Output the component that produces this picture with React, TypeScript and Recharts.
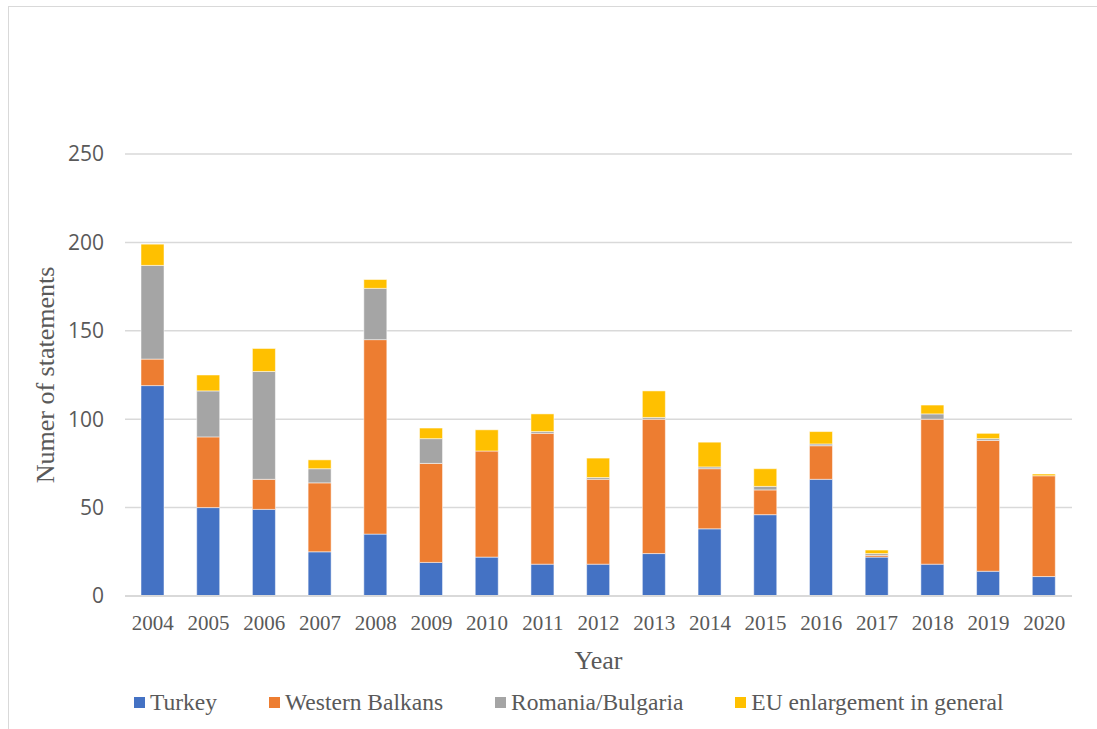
import { Bar, BarChart, CartesianGrid, Legend, XAxis, YAxis } from "recharts";

const years = [
  "2004", "2005", "2006", "2007", "2008", "2009", "2010", "2011", "2012",
  "2013", "2014", "2015", "2016", "2017", "2018", "2019", "2020",
];
const turkey = [119, 50, 49, 25, 35, 19, 22, 18, 18, 24, 38, 46, 66, 22, 18, 14, 11];
const westernBalkans = [15, 40, 17, 39, 110, 56, 60, 74, 48, 76, 34, 14, 19, 1, 82, 74, 57];
const romaniaBulgaria = [53, 26, 61, 8, 29, 14, 0, 1, 1, 1, 1, 2, 1, 1, 3, 1, 0];
const euGeneral = [12, 9, 13, 5, 5, 6, 12, 10, 11, 15, 14, 10, 7, 2, 5, 3, 1];
const yTicks = [0, 50, 100, 150, 200, 250];

const SERIES = [
  { key: "turkey", name: "Turkey", color: "#4472C4" },
  { key: "wb", name: "Western Balkans", color: "#ED7D31" },
  { key: "rb", name: "Romania/Bulgaria", color: "#A5A5A5" },
  { key: "eu", name: "EU enlargement in general", color: "#FFC000" },
];

const data = years.map((year, i) => ({
  year,
  turkey: turkey[i],
  wb: westernBalkans[i],
  rb: romaniaBulgaria[i],
  eu: euGeneral[i],
}));

const SERIF = "'Liberation Serif', 'DejaVu Serif', serif";
const SANS = "'Open Sans', 'Noto Sans', sans-serif";
const TEXT = "#595959";
const GRID = "#d9d9d9";

function LegendContent() {
  return (
    <div
      style={{
        display: "flex",
        alignItems: "center",
        paddingLeft: 134,
        fontFamily: SERIF,
        fontSize: 23.5,
        color: TEXT,
      }}
    >
      {SERIES.map((s) => (
        <div key={s.key} style={{ display: "flex", alignItems: "center", marginRight: 52 }}>
          <span
            style={{ display: "inline-block", width: 11, height: 11, background: s.color, marginRight: 5 }}
          />
          {s.name}
        </div>
      ))}
    </div>
  );
}

export default function App() {
  return (
    <div
      style={{
        position: "absolute",
        left: 0,
        top: 0,
        width: 1097,
        height: 729,
        overflow: "hidden",
        background: "#fff",
      }}
    >
      <div
        style={{
          position: "absolute",
          left: 8,
          top: 6,
          width: 1200,
          height: 800,
          border: `1.5px solid ${GRID}`,
        }}
      />
      <div style={{ position: "absolute", left: 0, top: 0 }}>
        <BarChart
          width={1097}
          height={729}
          data={data}
          margin={{ top: 154, right: 25, left: 0, bottom: 10 }}
          barSize={23}
        >
          <CartesianGrid vertical={false} stroke={GRID} strokeWidth={1.5} />
          <XAxis
            dataKey="year"
            interval={0}
            height={93}
            tickLine={false}
            axisLine={{ stroke: GRID, strokeWidth: 2 }}
            tickMargin={13}
            tick={{ fill: TEXT, fontSize: 21, fontFamily: SERIF }}
            label={{
              value: "Year",
              position: "insideBottom",
              offset: 20,
              fill: TEXT,
              fontSize: 26,
              fontFamily: SERIF,
            }}
          />
          <YAxis
            width={125}
            domain={[0, 250]}
            ticks={yTicks}
            tickLine={false}
            axisLine={false}
            tickMargin={15}
            tick={{ fill: TEXT, fontSize: 21, fontFamily: SANS }}
            label={{
              value: "Numer of statements",
              angle: -90,
              position: "insideLeft",
              offset: 45,
              fill: TEXT,
              fontSize: 26,
              fontFamily: SERIF,
              style: { textAnchor: "middle" },
            }}
          />
          <Legend verticalAlign="bottom" height={30} content={<LegendContent />} />
          {SERIES.map((s) => (
            <Bar
              key={s.key}
              dataKey={s.key}
              name={s.name}
              stackId="a"
              fill={s.color}
              stroke="#ffffff"
              strokeWidth={0.5}
              isAnimationActive={false}
            />
          ))}
        </BarChart>
      </div>
    </div>
  );
}
